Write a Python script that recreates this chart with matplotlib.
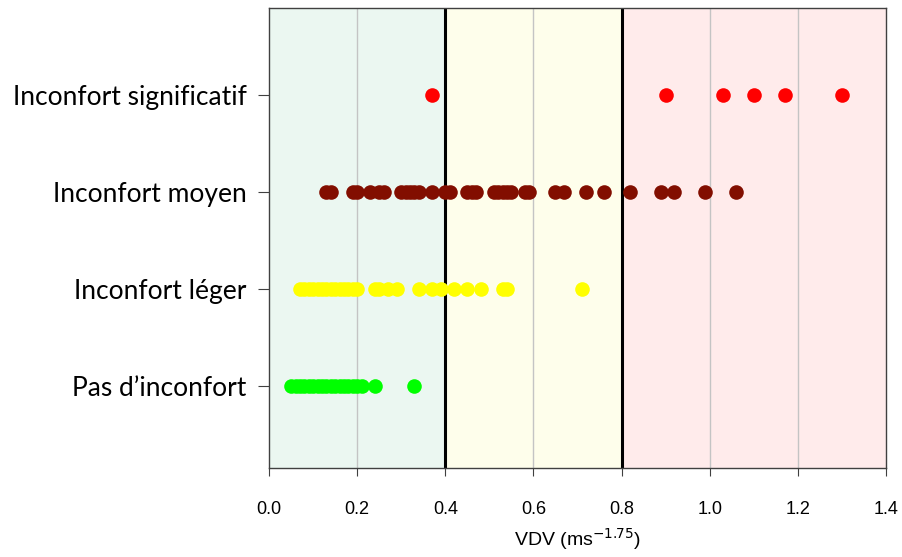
import matplotlib.pyplot as plt

# categories bottom -> top
categories = ["Pas d\u2019inconfort", "Inconfort léger", "Inconfort moyen", "Inconfort significatif"]
colors = ["#00ff00", "#ffff00", "#820e00", "#ff0000"]

# VDV values (ms^-1.75)
pas_inconfort = [0.05, 0.06, 0.07, 0.08, 0.09, 0.10, 0.11, 0.12, 0.13, 0.14,
                 0.15, 0.16, 0.17, 0.18, 0.19, 0.20, 0.21, 0.24, 0.33]
inconfort_leger = [0.07, 0.08, 0.09, 0.10, 0.11, 0.12, 0.13, 0.14, 0.15, 0.16,
                   0.17, 0.18, 0.19, 0.20, 0.24, 0.25, 0.27, 0.29, 0.34, 0.37,
                   0.39, 0.42, 0.45, 0.48, 0.53, 0.54, 0.71]
inconfort_moyen = [0.13, 0.14, 0.19, 0.20, 0.23, 0.25, 0.26, 0.30, 0.31, 0.32,
                   0.33, 0.34, 0.37, 0.40, 0.41, 0.45, 0.46, 0.47, 0.51, 0.52,
                   0.53, 0.54, 0.55, 0.58, 0.59, 0.65, 0.67, 0.72, 0.76, 0.82,
                   0.89, 0.92, 0.99, 1.06]
inconfort_signif = [0.37, 0.90, 1.03, 1.10, 1.17, 1.30]
series = [pas_inconfort, inconfort_leger, inconfort_moyen, inconfort_signif]

# comfort zones
zone_edges = [0.0, 0.4, 0.8, 1.4]
zone_colors = ["#ebf7f1", "#fefeeb", "#ffebeb"]
thresholds = [0.4, 0.8]
xticks = [0.0, 0.2, 0.4, 0.6, 0.8, 1.0, 1.2, 1.4]

fig = plt.figure(figsize=(9.03, 5.57), dpi=100)
ax = fig.add_axes([0.298, 0.16, 0.683, 0.826])

for i in range(3):
    ax.axvspan(zone_edges[i], zone_edges[i + 1], color=zone_colors[i], zorder=0, lw=0)
for x in xticks[1:-1]:
    ax.axvline(x, color="#c4c4c4", lw=1, zorder=1)
for t in thresholds:
    ax.axvline(t, color="black", lw=2.2, zorder=2)

for i, vals in enumerate(series):
    ax.plot(vals, [i + 1] * len(vals), "o", color=colors[i], ms=10.5, mew=0, zorder=3)

ax.set_xlim(0, 1.4)
ax.set_ylim(0.16, 4.9)
ax.set_xticks(xticks)
ax.set_xticklabels([f"{v:.1f}" for v in xticks], family="Liberation Sans", fontsize=13)
ax.set_yticks([1, 2, 3, 4])
ax.set_yticklabels(categories, family="Lato", fontsize=19)
ax.tick_params(axis="x", direction="out", length=6, pad=18, color="#404040")
ax.tick_params(axis="y", direction="out", length=8, pad=8, color="#404040")
for s in ax.spines.values():
    s.set_color("#404040")
    s.set_linewidth(1)

ax.set_xlabel("VDV (ms$^{-1.75}$)", family="Liberation Sans", fontsize=14, labelpad=6)

fig.savefig("out.png", dpi=100)
